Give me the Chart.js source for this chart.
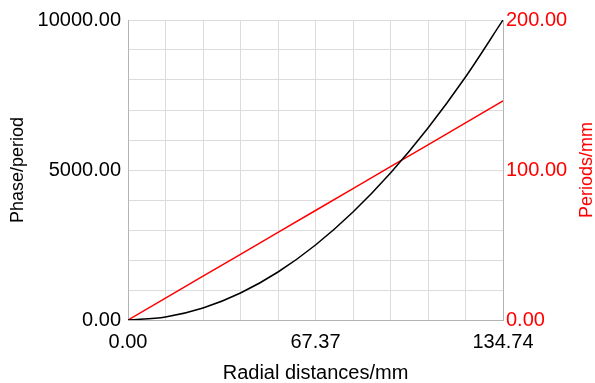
<!DOCTYPE html>
<html>
<head>
<meta charset="utf-8">
<script src="https://cdn.jsdelivr.net/npm/chart.js@4/dist/chart.umd.min.js"></script>
<style>
  html, body { margin: 0; padding: 0; background: #fff; }
  canvas { display: block; }
</style>
</head>
<body>
<canvas id="phaseChart" width="595" height="383"></canvas>
<script>
// Radial distances (mm) where the curves were read
const radii = [0, 13.47, 26.95, 40.42, 53.9, 67.37, 80.84, 94.32, 107.79, 121.27, 134.74];
// Phase/period (left axis, black)
const phaseValues = [0, 100, 400, 900, 1600, 2500, 3600, 4900, 6400, 8100, 10000];
// Periods/mm (right axis, red)
const periodValues = [0, 14.6, 29.2, 43.8, 58.4, 73, 87.6, 102.2, 116.8, 131.4, 146];

// Tick labels shown on each axis
const xTickLabels = ["0.00", "67.37", "134.74"];
const leftTickLabels = ["0.00", "5000.00", "10000.00"];
const rightTickLabels = ["0.00", "100.00", "200.00"];

const fontFamily = "'Liberation Sans', Arial, sans-serif";
const gridColor = "#dcdcdc";
const borderColor = "#b4b4b4";

// 10 grid divisions per axis, a label every 5th line
function gridTicks(max) {
  const ticks = [];
  for (let i = 0; i <= 10; i++) ticks.push({ value: (max * i) / 10 });
  return ticks;
}

function labelEveryFifth(labels) {
  return function (value, index) {
    return index % 5 === 0 ? labels[index / 5] : "";
  };
}

// Right axis title reads bottom-to-top, which Chart.js does not do on the right side
const rightTitlePlugin = {
  id: "rightTitle",
  afterDraw(chart) {
    const { ctx, chartArea } = chart;
    ctx.save();
    ctx.translate(587, (chartArea.top + chartArea.bottom) / 2);
    ctx.rotate(-Math.PI / 2);
    ctx.font = "18px " + fontFamily;
    ctx.fillStyle = "#ff0000";
    ctx.textAlign = "center";
    ctx.textBaseline = "middle";
    ctx.fillText("Periods/mm", 0, 0);
    ctx.restore();
  },
};

const ctx = document.getElementById("phaseChart").getContext("2d");
new Chart(ctx, {
  type: "line",
  data: {
    datasets: [
      {
        label: "Phase/period",
        data: radii.map((r, i) => ({ x: r, y: phaseValues[i] })),
        borderColor: "#000000",
        borderWidth: 1.5,
        pointRadius: 0,
        cubicInterpolationMode: "monotone",
        yAxisID: "y",
      },
      {
        label: "Periods/mm",
        data: radii.map((r, i) => ({ x: r, y: periodValues[i] })),
        borderColor: "#ff0000",
        borderWidth: 1.5,
        pointRadius: 0,
        yAxisID: "y1",
      },
    ],
  },
  options: {
    responsive: false,
    animation: false,
    layout: { padding: { top: 20, left: 0, right: 0, bottom: 0 } },
    plugins: {
      legend: { display: false },
      tooltip: { enabled: false },
    },
    scales: {
      x: {
        type: "linear",
        min: 0,
        max: 134.74,
        afterBuildTicks: (scale) => { scale.ticks = gridTicks(134.74); },
        afterFit: (scale) => { scale.height = 63; },
        grid: { color: gridColor, drawTicks: false },
        border: { color: borderColor },
        ticks: {
          autoSkip: false,
          maxRotation: 0,
          padding: 10,
          color: "#000",
          font: { family: fontFamily, size: 20 },
          callback: labelEveryFifth(xTickLabels),
        },
        title: {
          display: true,
          text: "Radial distances/mm",
          color: "#000",
          font: { family: fontFamily, size: 20, lineHeight: 1 },
          padding: { top: 0, bottom: 0 },
        },
      },
      y: {
        position: "left",
        min: 0,
        max: 10000,
        afterBuildTicks: (scale) => { scale.ticks = gridTicks(10000); },
        afterFit: (scale) => { scale.width = 128; },
        grid: { color: gridColor, drawTicks: false },
        border: { color: borderColor },
        ticks: {
          autoSkip: false,
          padding: 7,
          color: "#000",
          font: { family: fontFamily, size: 20 },
          callback: labelEveryFifth(leftTickLabels),
        },
        title: {
          display: true,
          text: "Phase/period",
          color: "#000",
          font: { family: fontFamily, size: 18, lineHeight: 1 },
          padding: { top: 9, bottom: 0 },
        },
      },
      y1: {
        position: "right",
        min: 0,
        max: 200,
        afterBuildTicks: (scale) => { scale.ticks = gridTicks(200); },
        afterFit: (scale) => { scale.width = 92; },
        grid: { drawOnChartArea: false, drawTicks: false },
        border: { color: borderColor },
        ticks: {
          autoSkip: false,
          padding: 3,
          color: "#ff0000",
          font: { family: fontFamily, size: 20 },
          callback: labelEveryFifth(rightTickLabels),
        },
        title: { display: false },
      },
    },
  },
  plugins: [rightTitlePlugin],
});
</script>
</body>
</html>
